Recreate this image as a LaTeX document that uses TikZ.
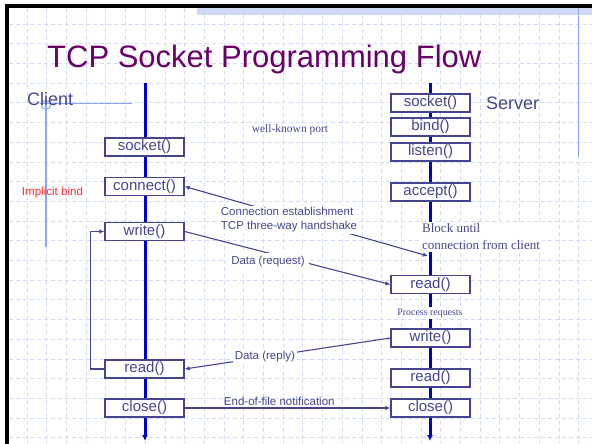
\documentclass[tikz,border=0pt]{standalone}
\usepackage{fontspec}
\setmainfont{Liberation Sans}
\newfontfamily\notefont{Liberation Serif}
\usepackage{tikz}
\usetikzlibrary{arrows.meta,positioning,calc}
\definecolor{ink}{HTML}{45458F}
\definecolor{lifeblue}{HTML}{0000CC}
\definecolor{titlepurple}{HTML}{680068}
\definecolor{gridblue}{HTML}{D3DCF6}
\definecolor{pale}{HTML}{8FA4F2}
\definecolor{band}{HTML}{D0DAF6}
\definecolor{bindred}{HTML}{FF2A2A}
\tikzset{
  >={Latex[length=5pt,width=4.5pt]},
  fnbox/.style={draw=ink,line width=1.3pt,fill=white,minimum width=79pt,minimum height=18pt,inner sep=0pt,text=ink,font=\fontsize{15}{17}\selectfont},
  lifeline/.style={draw=lifeblue,line width=3pt,-{Latex[length=6pt,width=6pt]}},
  msg/.style={draw=ink,line width=1.1pt,->},
  msglabel/.style={text=ink,font=\fontsize{11.5}{14}\selectfont,fill=white,inner sep=2pt,align=left},
  note/.style={text=ink,font=\notefont\fontsize{13}{17}\selectfont,align=left},
  side/.style={text=ink,font=\fontsize{18}{20}\selectfont,anchor=base west,inner sep=0pt},
}

\begin{document}
\begin{tikzpicture}[x=1pt,y=-1pt]
\useasboundingbox (0,0) rectangle (592,444);
% slide background: dashed grid, band, frame
\begin{scope}
  \clip (9,8) rectangle (592,444);
  \foreach \i in {0,...,29}
    \draw[gridblue,line width=0.8pt,dash pattern=on 4pt off 3pt] (27+19.7*\i,8) -- (27+19.7*\i,444);
  \foreach \j in {0,...,21}
    \draw[gridblue,line width=0.8pt,dash pattern=on 4pt off 3pt] (9,24+19.7*\j) -- (592,24+19.7*\j);
\end{scope}
\fill[band] (197,8) rectangle (592,15);
\draw[pale,line width=1pt] (578,8) -- (578,157);
\draw[black,line width=4pt] (7,444) -- (7,6.5) -- (592,6.5);
\draw[black,line width=3pt] (5,6.5) -- (592,6.5);

% title
\node[anchor=base west,inner sep=0pt,text=titlepurple,font=\fontsize{31}{36}\selectfont] (title) at (47,68) {TCP Socket Programming Flow};

% client marker lines
\draw[pale,line width=1pt] (40,103) -- (132,103);
\draw[pale,line width=1pt] (46,105) circle (4.5pt);
\draw[pale,line width=1.2pt] (46,105) -- (46,247);
\node[side] (client) at (27,106) {Client};
\node[side] (server) at (486,110) {Server};

% lifelines
\coordinate (ctop) at (145,83);
\coordinate (cend) at (145,441);
\coordinate (stop) at (430,83);
\coordinate (send) at (430,441);
\draw[lifeline] (ctop) -- (cend);
\draw[lifeline] (stop) -- (send);

% client calls
\node[fnbox] (csock)  at (144.5,147) {socket()};
\node[fnbox] (cconn)  at (144.5,186.5) {connect()};
\node[fnbox] (cwrite) at (144.5,231.5) {write()};
\node[fnbox] (cread)  at (144.5,369) {read()};
\node[fnbox] (cclose) at (144.5,408) {close()};

% server calls
\node[fnbox] (ssock)   at (430.5,103) {socket()};
\node[fnbox] (sbind)   at (430.5,127) {bind()};
\node[fnbox] (slisten) at (430.5,152) {listen()};
\node[fnbox] (saccept) at (430.5,192) {accept()};
\node[fnbox] (sread)   at (430.5,284.5) {read()};
\node[fnbox] (swrite)  at (430.5,338) {write()};
\node[fnbox] (sread2)  at (430.5,378) {read()};
\node[fnbox] (sclose)  at (430.5,408) {close()};

% notes
\node[note,fill=white,inner sep=2pt,anchor=west] (block) at (420,237) {Block until\\connection from client};
\node[note,fill=white,inner sep=1.5pt,font=\notefont\fontsize{9.9}{12}\selectfont] (proc) at (430,313) {Process requests};
\node[note,font=\notefont\fontsize{11.5}{14}\selectfont] (wkp) at (290,130) {well-known port};
\node[text=bindred,font=\fontsize{11.6}{14}\selectfont] (ibind) at (52.5,193) {Implicit bind};

% messages
\coordinate (hsend) at (428,256);
\draw[msg,<->] (cconn.east) -- (hsend);
\node[msglabel] (hslabel) at (289,220) {Connection establishment\\TCP three-way handshake};
\draw[msg] (cwrite.east) -- (sread.west);
\node[msglabel,inner sep=4pt] (reqlabel) at (268,262) {Data (request)};
\draw[msg] (swrite.west) -- node[msglabel,pos=0.61] (replabel) {Data (reply)} (cread.east);
\draw[msg] (cclose.east) -- node[msglabel,fill=none,above,pos=0.46] (eoflabel) {End-of-file notification} (sclose.west);
% client loop back to write()
\draw[msg] (cread.west) -- ++(-14,0) |- (cwrite.west);
\end{tikzpicture}
\end{document}
